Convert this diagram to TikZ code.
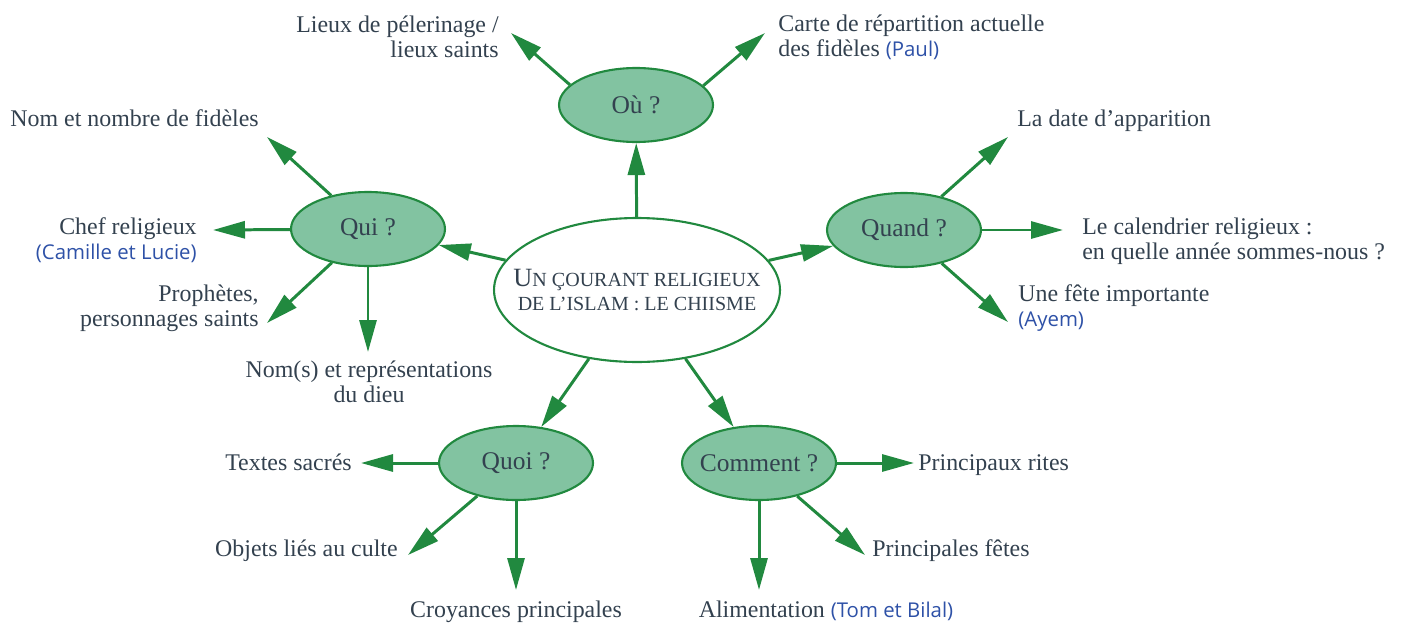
\documentclass[tikz,border=0pt]{standalone}
\usepackage{fontspec}
\setmainfont{Liberation Serif}
\newfontfamily\eleveFont{Open Sans}
\usetikzlibrary{arrows.meta,shapes.geometric}

\definecolor{trait}{HTML}{21893F}
\definecolor{fond}{HTML}{82C3A1}
\definecolor{encre}{HTML}{33414F}
\definecolor{bleu}{HTML}{2E51A7}
\newcommand{\eleve}[1]{{\eleveFont\fontsize{11.6}{14}\selectfont\color{bleu}#1}}

\tikzset{
  theme/.style={ellipse,draw=trait,line width=1.2pt,minimum width=5.72cm,minimum height=2.88cm,inner xsep=-1cm,align=center,text=encre,font=\fontsize{11.4}{13.6}\selectfont},
  question/.style={ellipse,draw=trait,fill=fond,line width=1.2pt,minimum width=3.08cm,minimum height=1.48cm,inner xsep=-0.6cm,text=encre,font=\fontsize{14.5}{16}\selectfont},
  leaf/.style={inner sep=0pt,text=encre,font=\fontsize{13.6}{14.2}\selectfont},
  fleche/.style={-{Triangle[length=0.64cm,width=0.34cm]},draw=trait,line width=1.7pt},
}

\begin{document}
\begin{tikzpicture}[x=0.02cm,y=-0.02cm]
            \useasboundingbox (0,0) rectangle (1405,622);

            % Central theme
            \node[theme] (theme) at (637,290) {{\fontsize{15}{13.6}\selectfont U}N ÇOURANT RELIGIEUX\\DE L’ISLAM : LE CHIISME};

            % Question nodes
            \node[question] (ou) at (636,105) {Où ?};
            \node[question] (qui) at (368,229) {Qui ?};
            \node[question] (quand) at (904,230) {Quand ?};
            \node[question] (quoi) at (516,463) {Quoi ?};
            \node[question] (comment) at (759,463) {Comment ?};

            % Arrows from the theme to the questions
            \draw[fleche] (theme) -- (ou);
            \draw[fleche] (theme) -- (qui);
            \draw[fleche] (theme) -- (quand);
            \draw[fleche] (theme) -- (quoi);
            \draw[fleche] (theme) -- (comment);

            % Où ? texts
            \node[leaf,anchor=east,align=right] (lieux) at (499,37) {Lieux de pélerinage /\\lieux saints};
            \node[leaf,anchor=west,align=left] (carte) at (778,37) {Carte de répartition actuelle\\des fidèles \eleve{(Paul)}};

            % Qui ? texts
            \node[leaf,anchor=base east] (nombre) at (259,126) {Nom et nombre de fidèles};
            \node[leaf,anchor=east,align=right] (chef) at (197,240) {Chef religieux\\\eleve{(Camille et Lucie)}};
            \node[leaf,anchor=east,align=right] (prophetes) at (259,308) {Prophètes,\\personnages saints};
            \node[leaf,align=center] (dieu) at (369,382) {Nom(s) et représentations\\du dieu};

            % Quand ? texts
            \node[leaf,anchor=base west] (date) at (1017,126) {La date d’apparition};
            \node[leaf,anchor=west,align=left] (calendrier) at (1082,241) {Le calendrier religieux :\\en quelle année sommes-nous ?};
            \node[leaf,anchor=west,align=left] (fete) at (1018,308) {Une fête importante\\\eleve{(Ayem)}};

            % Quoi ? texts
            \node[leaf,anchor=base east] (textes) at (352,470) {Textes sacrés};
            \node[leaf,anchor=base east] (objets) at (398,556) {Objets liés au culte};
            \node[leaf,anchor=base] (croyances) at (516,617) {Croyances principales};

            % Comment ? texts
            \node[leaf,anchor=base west] (rites) at (918,470) {Principaux rites};
            \node[leaf,anchor=base west] (fetes) at (872,556) {Principales fêtes};
            \node[leaf,anchor=base] (alimentation) at (826,617) {Alimentation \eleve{(Tom et Bilal)}};

            % Arrow tips next to the texts
            \coordinate (lieuxTip) at (511,33);
            \coordinate (carteTip) at (765,33);
            \coordinate (nombreTip) at (267,137);
            \coordinate (chefTip) at (213,230);
            \coordinate (prophetesTip) at (267,323);
            \coordinate (dieuTip) at (368,352);
            \coordinate (dateTip) at (1008,137);
            \coordinate (calendrierTip) at (1063,230);
            \coordinate (feteTip) at (1008,322);
            \coordinate (textesTip) at (361,463);
            \coordinate (objetsTip) at (408,555);
            \coordinate (croyancesTip) at (516,590);
            \coordinate (ritesTip) at (914,463);
            \coordinate (fetesTip) at (865,555);
            \coordinate (alimentationTip) at (759,590);

            % Arrows from the questions
            \draw[fleche] (ou.163) -- (lieuxTip);
            \draw[fleche] (ou.16) -- (carteTip);
            \draw[fleche] (qui) -- (nombreTip);
            \draw[fleche] (qui) -- (chefTip);
            \draw[fleche] (qui) -- (prophetesTip);
            \draw[fleche] (qui) -- (dieuTip);
            \draw[fleche] (quand) -- (dateTip);
            \draw[fleche] (quand) -- (calendrierTip);
            \draw[fleche] (quand) -- (feteTip);
            \draw[fleche] (quoi) -- (textesTip);
            \draw[fleche] (quoi) -- (objetsTip);
            \draw[fleche] (quoi) -- (croyancesTip);
            \draw[fleche] (comment) -- (ritesTip);
            \draw[fleche] (comment) -- (fetesTip);
            \draw[fleche] (comment) -- (alimentationTip);

\end{tikzpicture}
\end{document}
